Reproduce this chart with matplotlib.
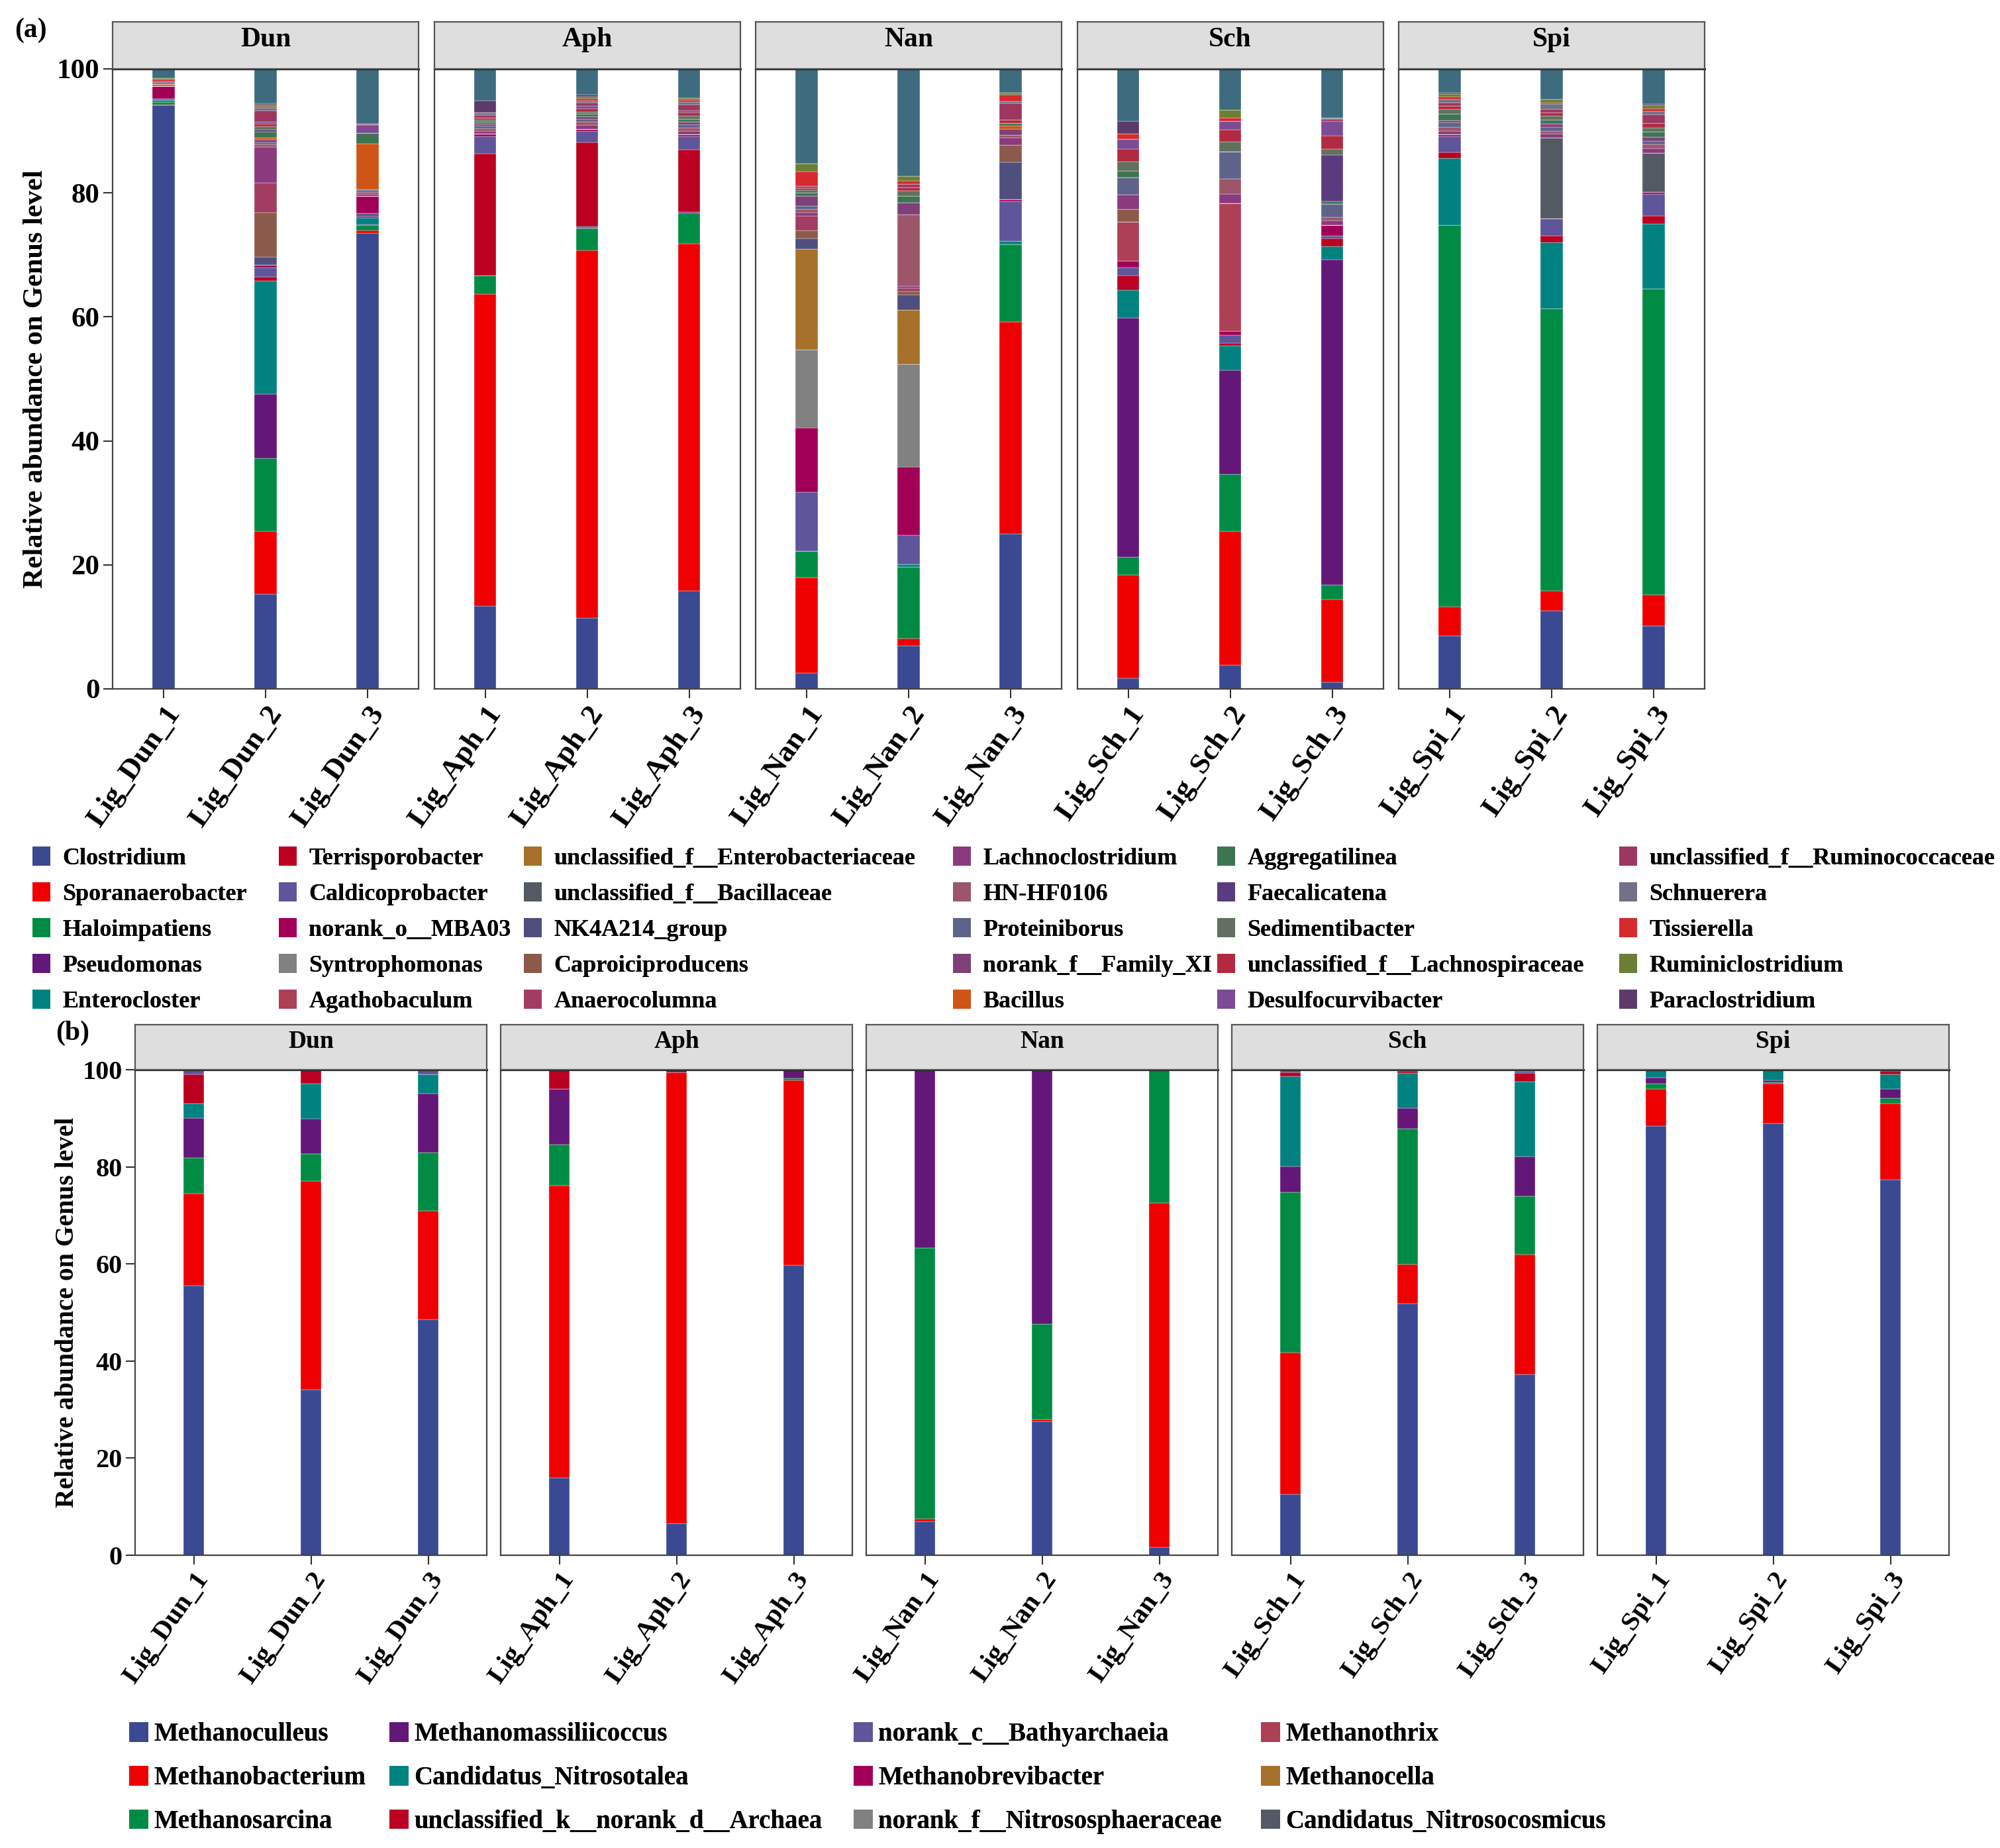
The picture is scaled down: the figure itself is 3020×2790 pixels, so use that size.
import numpy as np
import matplotlib
matplotlib.use('Agg')
import matplotlib.pyplot as plt
from matplotlib.patches import Patch

plt.rcParams['font.family'] = ['Liberation Serif', 'DejaVu Serif']
plt.rcParams['font.weight'] = 'bold'

W, H = 3020, 2790

groups = ['Dun', 'Aph', 'Nan', 'Sch', 'Spi']
samples = ['Lig_Dun_1', 'Lig_Dun_2', 'Lig_Dun_3',
           'Lig_Aph_1', 'Lig_Aph_2', 'Lig_Aph_3',
           'Lig_Nan_1', 'Lig_Nan_2', 'Lig_Nan_3',
           'Lig_Sch_1', 'Lig_Sch_2', 'Lig_Sch_3',
           'Lig_Spi_1', 'Lig_Spi_2', 'Lig_Spi_3']

# ---- (a) bacteria, genus level (%) ----
clostridium = [94.1, 15.3, 73.5, 13.4, 11.4, 15.8, 2.6, 6.9, 25.0, 1.7, 3.8, 1.1, 8.5, 12.6, 10.2]
sporanaerobacter = [0.1, 10.1, 0.4, 50.3, 59.3, 56.0, 15.4, 1.2, 34.2, 16.7, 21.6, 13.3, 4.7, 3.2, 5.0]
haloimpatiens = [0.5, 11.8, 0.9, 3.0, 3.5, 4.9, 4.2, 11.6, 12.5, 2.9, 9.2, 2.4, 61.6, 45.5, 49.3]
pseudomonas = [0, 10.3, 0.1, 0, 0.2, 0.2, 0, 0, 0, 38.5, 16.8, 52.4, 0, 0, 0]
enterocloster = [0.3, 18.3, 1.1, 0, 0.2, 0, 0, 0.4, 0.5, 4.5, 3.9, 2.2, 10.8, 10.7, 10.5]
terrisporobacter = [0, 0.6, 0.2, 19.6, 13.5, 10.1, 0, 0, 0, 2.4, 0.5, 1.2, 0.9, 1.1, 1.3]
caldicoprobacter = [0.2, 1.6, 0.5, 2.8, 1.9, 2.1, 9.5, 4.7, 6.4, 1.3, 1.2, 0.5, 2.6, 2.8, 3.5]
norank_mba03 = [2.0, 0.4, 2.8, 0.4, 0.3, 0.3, 10.4, 11.0, 0.4, 1.0, 0.7, 1.7, 0.3, 0, 0.3]
syntrophomonas = [0, 0, 0, 0, 0, 0, 12.6, 16.5, 0, 0, 0, 0, 0, 0, 0]
agathobaculum = [0, 0, 0, 0, 0, 0, 0, 0, 0, 6.3, 20.6, 0, 0, 0, 0]
uncl_enterobacteriaceae = [0, 0, 0, 0, 0, 0, 16.2, 8.8, 0, 0, 0, 0, 0, 0, 0]
uncl_bacillaceae = [0, 0, 0, 0, 0, 0, 0, 0, 0, 0, 0, 0, 0, 13.0, 6.3]
nk4a214 = [0, 1.3, 0, 0, 0, 0, 1.8, 2.5, 5.9, 0, 0, 0, 0, 0, 0]
caproiciproducens = [0, 7.1, 0, 0, 0, 0, 1.2, 0.5, 2.8, 2.1, 0, 0, 0, 0, 0]
anaerocolumna = [0, 4.8, 0, 0, 0, 0, 2.4, 0.5, 0, 0, 0, 0, 0, 0, 0]
lachnoclostridium = [0, 5.8, 0.3, 0.5, 0.6, 0.6, 0.5, 0.4, 1.2, 2.3, 1.5, 0.7, 0.6, 0.6, 0.8]
hn_hf0106 = [0, 0.4, 0.3, 0.4, 0.5, 0.5, 0.5, 11.5, 0.4, 0, 2.5, 0.6, 0.6, 0.5, 0.6]
proteiniborus = [0, 0.3, 0.3, 0.4, 0.5, 0.5, 0.6, 0, 0, 2.8, 4.3, 2.1, 0.7, 0.6, 0.6]
family_xi = [0, 0.5, 0.2, 0.3, 0.4, 0.4, 1.6, 1.9, 1.0, 0, 0, 0, 0.4, 0.5, 0.6]
bacillus = [0.3, 0.3, 7.3, 0, 0, 0, 0, 0, 0.5, 0, 0, 0, 0, 0, 0]
aggregatilinea = [0, 0.9, 1.7, 0.4, 0.4, 0.5, 0.5, 1.1, 0.4, 1.0, 0, 0.4, 1.0, 0.7, 0.9]
faecalicatena = [0, 0.4, 0, 0, 0, 0, 0, 0, 0, 0, 0, 7.5, 0, 0, 0]
sedimentibacter = [0, 0.5, 0, 0.3, 0.4, 0.5, 0.4, 0.8, 0, 1.5, 1.7, 1.0, 0.8, 0.6, 0.6]
uncl_lachnospiraceae = [0, 0.4, 0, 0.3, 0.5, 0.5, 0.4, 0.6, 0.6, 2.1, 1.9, 2.1, 0.5, 0.5, 0.7]
desulfocurvibacter = [0, 0.3, 1.3, 0, 0.4, 0.4, 0, 0, 0, 1.6, 1.4, 2.4, 0, 0, 0]
uncl_ruminococcaceae = [0.3, 1.9, 0.2, 0.4, 0.5, 0.9, 0.3, 0.5, 2.6, 0, 0, 0.3, 0.6, 0.6, 1.4]
schnuerera = [0.2, 0.4, 0, 0.4, 0.4, 0.5, 0, 0, 0.4, 0, 0, 0.2, 0.5, 0.8, 0.6]
tissierella = [0.3, 0.2, 0, 0, 0.3, 0.3, 2.3, 0.5, 1.0, 0.8, 0.5, 0, 0.4, 0.3, 0.4]
ruminiclostridium = [0.2, 0.3, 0, 0, 0.3, 0.3, 1.3, 0.8, 0.4, 0, 1.3, 0, 0.4, 0.5, 0.5]
paraclostridium = [0, 0.2, 0, 2.0, 0.3, 0, 0, 0, 0, 2.1, 0, 0, 0.3, 0, 0.2]
bac_others = [1.5, 5.6, 8.9, 5.1, 4.2, 4.7, 15.3, 17.3, 3.8, 8.4, 6.6, 7.9, 3.8, 4.9, 5.7]

bac_genera = ['Clostridium', 'Sporanaerobacter', 'Haloimpatiens', 'Pseudomonas', 'Enterocloster',
              'Terrisporobacter', 'Caldicoprobacter', 'norank_o__MBA03', 'Syntrophomonas', 'Agathobaculum',
              'unclassified_f__Enterobacteriaceae', 'unclassified_f__Bacillaceae', 'NK4A214_group',
              'Caproiciproducens', 'Anaerocolumna', 'Lachnoclostridium', 'HN-HF0106', 'Proteiniborus',
              'norank_f__Family_XI', 'Bacillus', 'Aggregatilinea', 'Faecalicatena', 'Sedimentibacter',
              'unclassified_f__Lachnospiraceae', 'Desulfocurvibacter', 'unclassified_f__Ruminococcaceae',
              'Schnuerera', 'Tissierella', 'Ruminiclostridium', 'Paraclostridium', 'Others']
bac_values = [clostridium, sporanaerobacter, haloimpatiens, pseudomonas, enterocloster,
              terrisporobacter, caldicoprobacter, norank_mba03, syntrophomonas, agathobaculum,
              uncl_enterobacteriaceae, uncl_bacillaceae, nk4a214, caproiciproducens, anaerocolumna,
              lachnoclostridium, hn_hf0106, proteiniborus, family_xi, bacillus, aggregatilinea,
              faecalicatena, sedimentibacter, uncl_lachnospiraceae, desulfocurvibacter,
              uncl_ruminococcaceae, schnuerera, tissierella, ruminiclostridium, paraclostridium, bac_others]
bac_colors = ['#3B4992', '#EE0000', '#008B45', '#631879', '#008280', '#BB0021', '#5F559B', '#A20056',
              '#808180', '#AD3F57', '#A6712A', '#545A63', '#4F4F7E', '#8C5A4B', '#A23D61', '#8B3A7D',
              '#9D5569', '#5F6389', '#7F4078', '#CF5516', '#3D7552', '#5A3B80', '#62705F', '#B22A41',
              '#7C4B96', '#9C3760', '#717187', '#D62A2F', '#6C7E34', '#5C3B6B', '#3E6C7E']

# ---- (b) archaea, genus level (%) ----
methanoculleus = [55.5, 34.1, 48.5, 15.9, 6.6, 59.7, 7.0, 27.6, 1.6, 12.6, 51.8, 37.2, 88.4, 88.9, 77.4]
methanobacterium = [19.0, 43.0, 22.5, 60.2, 92.9, 38.1, 0.5, 0.3, 71.0, 29.2, 8.1, 24.8, 7.6, 8.2, 15.7]
methanosarcina = [7.4, 5.6, 11.9, 8.5, 0, 0.4, 55.8, 19.7, 27.4, 32.9, 27.9, 12.0, 1.1, 0.3, 1.1]
methanomassiliicoccus = [8.1, 7.2, 12.2, 11.5, 0.5, 1.8, 36.7, 52.4, 0, 5.4, 4.3, 8.1, 1.3, 0.4, 1.8]
cand_nitrosotalea = [3.0, 7.2, 4.0, 0, 0, 0, 0, 0, 0, 18.5, 7.2, 15.5, 1.6, 2.2, 3.1]
uncl_archaea = [6.0, 2.9, 0, 3.7, 0, 0, 0, 0, 0, 0.9, 0.4, 1.7, 0, 0, 0.6]
bathyarchaeia = [1.0, 0, 0.9, 0.2, 0, 0, 0, 0, 0, 0.5, 0.3, 0.4, 0, 0, 0.1]
methanobrevibacter = [0, 0, 0, 0, 0, 0, 0, 0, 0, 0, 0, 0.3, 0, 0, 0.2]
nitrososphaeraceae = [0, 0, 0, 0, 0, 0, 0, 0, 0, 0, 0, 0, 0, 0, 0]
methanothrix = [0, 0, 0, 0, 0, 0, 0, 0, 0, 0, 0, 0, 0, 0, 0]
methanocella = [0, 0, 0, 0, 0, 0, 0, 0, 0, 0, 0, 0, 0, 0, 0]
cand_nitrosocosmicus = [0, 0, 0, 0, 0, 0, 0, 0, 0, 0, 0, 0, 0, 0, 0]

arc_genera = ['Methanoculleus', 'Methanobacterium', 'Methanosarcina', 'Methanomassiliicoccus',
              'Candidatus_Nitrosotalea', 'unclassified_k__norank_d__Archaea', 'norank_c__Bathyarchaeia',
              'Methanobrevibacter', 'norank_f__Nitrososphaeraceae', 'Methanothrix', 'Methanocella',
              'Candidatus_Nitrosocosmicus']
arc_values = [methanoculleus, methanobacterium, methanosarcina, methanomassiliicoccus, cand_nitrosotalea,
              uncl_archaea, bathyarchaeia, methanobrevibacter, nitrososphaeraceae, methanothrix,
              methanocella, cand_nitrosocosmicus]
arc_colors = ['#3B4992', '#EE0000', '#008B45', '#631879', '#008280', '#BB0021', '#5F559B', '#A20056',
              '#808180', '#AD3F57', '#A6712A', '#545A63']


def add_ax(fig, left, top, width, height):
    # pixel box (from top-left) -> figure fraction axes
    return fig.add_axes([left / W, 1 - (top + height) / H, width / W, height / H])


def draw_row(fig, values, colors, x0, step, pw, top, ph, strip_h, bar_w,
             tick_fs, strip_fs, ytick_fs, rot, ylabel_fs, ylabel_x):
    vals = np.array(values, dtype=float)
    for i, g in enumerate(groups):
        left = x0 + i * step
        ax = add_ax(fig, left, top, pw, ph)
        idx = slice(3 * i, 3 * i + 3)
        x = np.arange(3)
        bottom = np.zeros(3)
        for k in range(vals.shape[0]):
            v = vals[k, idx]
            ax.bar(x, v, bottom=bottom, width=bar_w, color=colors[k],
                   edgecolor='white', linewidth=0.25)
            bottom += v
        ax.set_xlim(-0.5, 2.5)
        ax.set_ylim(0, 100)
        ax.set_xticks(x)
        ax.set_xticklabels(samples[idx], rotation=rot, ha='right', va='top',
                           rotation_mode='anchor', fontsize=tick_fs, fontweight='bold')
        ax.tick_params(axis='x', length=10, width=1.5, pad=4, color='#333333')
        for s in ax.spines.values():
            s.set_color('#444444')
            s.set_linewidth(1.6)
        ax.spines['top'].set_color('#111111')
        ax.spines['top'].set_linewidth(2.2)
        if i == 0:
            ax.set_yticks([0, 20, 40, 60, 80, 100])
            ax.set_yticklabels(['0', '20', '40', '60', '80', '100'], fontsize=ytick_fs,
                               fontweight='bold')
            ax.tick_params(axis='y', length=10, width=1.5, pad=4, color='#333333')
        else:
            ax.set_yticks([])

        sax = add_ax(fig, left, top - strip_h, pw, strip_h)
        sax.set_facecolor('#DEDEDE')
        sax.set_xticks([])
        sax.set_yticks([])
        for s in sax.spines.values():
            s.set_color('#555555')
            s.set_linewidth(1.6)
        sax.text(0.5, 0.62, g, transform=sax.transAxes, ha='center', va='center',
                 fontsize=strip_fs, fontweight='bold')

    fig.text(ylabel_x / W, 1 - (top + ph / 2) / H, 'Relative abundance on Genus level',
             rotation=90, ha='center', va='center', fontsize=ylabel_fs, fontweight='bold')


def column_legends(fig, names, colors, col_x, nrow, top, size, hh, pad, spacing):
    # one legend per column so each column starts where the reference has it
    handles = [Patch(facecolor=c, edgecolor='none', label=n) for n, c in zip(names, colors)]
    for c, cx in enumerate(col_x):
        leg = fig.legend(handles=handles[c * nrow:(c + 1) * nrow], loc='upper left',
                         bbox_to_anchor=(cx / W, 1 - top / H), frameon=False,
                         prop={'size': size, 'weight': 'bold'}, handlelength=0.75,
                         handleheight=hh, handletextpad=pad, labelspacing=spacing,
                         borderpad=0, borderaxespad=0)
        fig.add_artist(leg)


fig = plt.figure(figsize=(W / 100, H / 100), dpi=100)

# (a)
draw_row(fig, bac_values, bac_colors, x0=170, step=485.5, pw=462, top=104, ph=936, strip_h=71,
         bar_w=0.215, tick_fs=32, strip_fs=30, ytick_fs=31, rot=55, ylabel_fs=30.5, ylabel_x=54)
fig.text(46 / W, 1 - 46 / H, '(a)', ha='center', va='center', fontsize=30, fontweight='bold')

column_legends(fig, bac_genera[:-1], bac_colors[:-1], [49, 421, 791, 1439, 1838, 2445], 5,
               top=1278, size=26, hh=0.85, pad=0.5, spacing=0.53)

# (b)
draw_row(fig, arc_values, arc_colors, x0=204, step=552, pw=531, top=1615, ph=733, strip_h=68,
         bar_w=0.17, tick_fs=29.5, strip_fs=27, ytick_fs=29, rot=55, ylabel_fs=28.5, ylabel_x=102)
fig.text(110 / W, 1 - 1560 / H, '(b)', ha='center', va='center', fontsize=30, fontweight='bold')

column_legends(fig, arc_genera, arc_colors, [195, 588, 1289, 1904], 3,
               top=2600, size=28, hh=0.8, pad=0.2, spacing=0.73)

fig.savefig('out.png', dpi=100)
